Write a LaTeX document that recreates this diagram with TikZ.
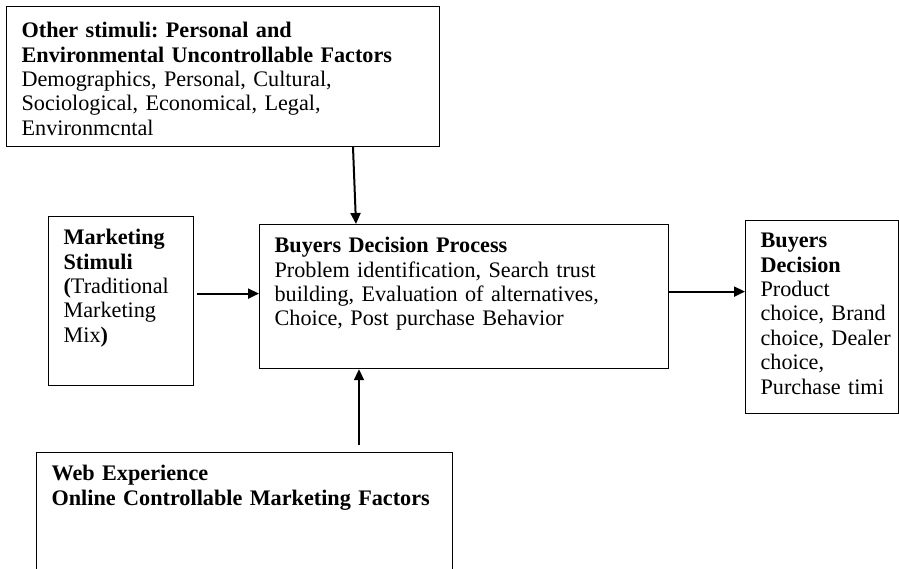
\documentclass[tikz,border=0pt]{standalone}
\usepackage{fontspec}
\setmainfont{Liberation Serif}
\usetikzlibrary{arrows.meta}

\begin{document}
\begin{tikzpicture}[x=1pt, y=-1pt,
    box/.style={draw, line width=1.2pt, anchor=north west, inner xsep=15pt, inner ysep=0pt,
                align=left, text height=28pt, font=\fontsize{22.2}{24.4}\selectfont\frenchspacing},
    arr/.style={-{Triangle[length=11pt,width=10pt]}, line width=2pt}]

    \useasboundingbox (0,0) rectangle (899,568);
    \clip (0,0) rectangle (899,568);

    % Define the boxes (nodes)
    \node[box, text width=403pt, text height=31pt, text depth=109pt] (other) at (6,6)
        {\textbf{Other stimuli: Personal and}\\
         \textbf{Environmental Uncontrollable Factors}\\
         Demographics, Personal, Cultural,\\
         Sociological, Economical, Legal,\\
         Environmcntal};
    \node[box, text width=115pt, text depth=141pt] (mkt) at (48,216)
        {\textbf{Marketing}\\
         \textbf{Stimuli}\\
         \textbf{(}Traditional\\
         Marketing\\
         Mix\textbf{)}};
    \node[box, text width=379pt, text depth=116pt] (proc) at (259,224)
        {\textbf{Buyers Decision Process}\\
         Problem identification, Search trust\\
         building, Evaluation of alternatives,\\
         Choice, Post purchase Behavior};
    \node[box, text width=123pt, text height=27pt, text depth=166pt] (dec) at (745,220)
        {\textbf{Buyers}\\
         \textbf{Decision}\\
         Product\\
         choice,~Brand\\
         choice,~Dealer\\
         choice,\\
         Purchase~timi};
    \node[box, text width=386pt, text depth=120pt] (web) at (36,452)
        {\textbf{Web Experience}\\
         \textbf{Online Controllable Marketing Factors}};

    % Define the arrows (edges)
    \path[arr]
    ([xshift=347pt]other.south west) edge ([xshift=97pt]proc.north west) % uncontrollable factors in
    ([xshift=3pt,yshift=7.5pt]mkt.east) edge ([yshift=3pt]proc.west) % marketing mix in
    ([yshift=5pt]proc.east) edge ([yshift=25.5pt]dec.west) % decision out
    ([xshift=323pt,yshift=7pt]web.north west) edge ([xshift=100pt]proc.south west); % web experience in
\end{tikzpicture}
\end{document}
